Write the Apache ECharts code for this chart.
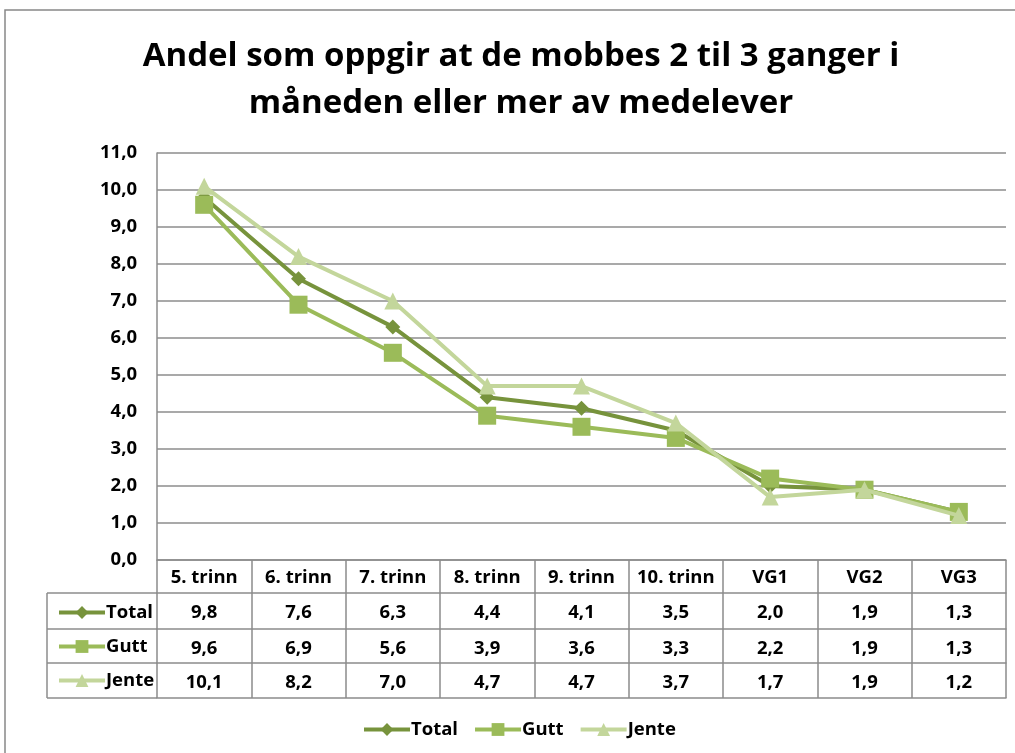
<!DOCTYPE html>
<html><head><meta charset="utf-8">
<script src="https://cdn.jsdelivr.net/npm/echarts@6/dist/echarts.min.js"></script>
<style>html,body{margin:0;padding:0;background:#fff}#c{width:1015px;height:753px}</style>
</head><body><div id="c"></div>
<script>
var categories = ['5. trinn','6. trinn','7. trinn','8. trinn','9. trinn','10. trinn','VG1','VG2','VG3'];
var totalValues = [9.8,7.6,6.3,4.4,4.1,3.5,2.0,1.9,1.3];
var guttValues  = [9.6,6.9,5.6,3.9,3.6,3.3,2.2,1.9,1.3];
var jenteValues = [10.1,8.2,7.0,4.7,4.7,3.7,1.7,1.9,1.2];
var seriesNames = ['Total','Gutt','Jente'];
var yTicks = {min:0, max:11, interval:1};

var FONT = 'Open Sans';
var GRID_C = '#8c8c8c';
var colors = ['#77933C','#9BBB59','#C3D69B'];
function fmt(v){ return v.toFixed(1).replace('.', ','); }

var chart = echarts.init(document.getElementById('c'));
function rowAxis(vals, off){
  return {type:'category', data: vals ? vals.map(fmt) : categories.map(function(){return '';}),
    position:'bottom', offset:off, gridIndex:0, boundaryGap:true,
    axisLine:{show:true, lineStyle:{color:GRID_C, width:1.5}},
    axisTick:{show:false}, splitLine:{show:false},
    axisLabel:{show:!!vals, interval:0, margin:10, fontFamily:FONT, fontWeight:'bold', fontSize:18.5, color:'#000'}};
}
var symbols = ['diamond','rect','triangle'];
var sizes = [15,18,17];
var data = [totalValues, guttValues, jenteValues];
var series = seriesNames.map(function(n,i){
  return {name:n, type:'line', data:data[i], symbol:symbols[i], symbolSize:sizes[i],
    lineStyle:{width:4, color:colors[i]}, itemStyle:{color:colors[i]}, z:2+i, animation:false};
});
var L = {x0:47, x1:157, ys:[593,629,663,698]};
var graphics = [
  {type:'rect', shape:{x:5, y:10, width:1030, height:780}, style:{fill:'none', stroke:'#888', lineWidth:1.5}, silent:true}
];
L.ys.forEach(function(y){
  graphics.push({type:'line', shape:{x1:L.x0, y1:y, x2:L.x1, y2:y}, style:{stroke:GRID_C, lineWidth:1.5}});
});
graphics.push({type:'line', shape:{x1:L.x0, y1:L.ys[0], x2:L.x0, y2:L.ys[3]}, style:{stroke:GRID_C, lineWidth:1.5}});

var legText = {fontFamily:FONT, fontWeight:'bold', fontSize:18.5, color:'#000', padding:[0,0,0,-4]};
chart.setOption({
  animation:false,
  title:{text:'Andel som oppgir at de mobbes 2 til 3 ganger i\nmåneden eller mer av medelever',
    left:516, textAlign:'center', top:28,
    textStyle:{fontFamily:FONT, fontWeight:'bold', fontSize:33, lineHeight:47, color:'#000'}},
  grid:{left:157, right:9, top:153, bottom:193, containLabel:false},
  legend:[
    {data:seriesNames, orient:'horizontal', left:357, top:715, itemWidth:46, itemHeight:16, itemGap:15,
      lineStyle:{width:4}, textStyle:legText},
    {data:seriesNames, orient:'vertical', left:52, top:598, itemWidth:46, itemHeight:16, itemGap:15,
      lineStyle:{width:4}, textStyle:legText}
  ],
  xAxis:[
    {type:'category', data:categories, position:'bottom', boundaryGap:true,
      axisLine:{show:true, lineStyle:{color:GRID_C, width:1.5}},
      axisTick:{show:true, interval:0, length:138, lineStyle:{color:GRID_C, width:1.5}},
      axisLabel:{interval:0, margin:8, fontFamily:FONT, fontWeight:'bold', fontSize:18.5, color:'#000'}},
    rowAxis(totalValues, 33),
    rowAxis(guttValues, 69),
    rowAxis(jenteValues, 103),
    rowAxis(null, 138)
  ],
  yAxis:{type:'value', min:yTicks.min, max:yTicks.max, interval:yTicks.interval,
    axisLine:{show:true, lineStyle:{color:GRID_C, width:1.5}}, axisTick:{show:false},
    splitLine:{lineStyle:{color:GRID_C, width:1.5}},
    axisLabel:{margin:20, formatter:fmt, fontFamily:FONT, fontWeight:'bold', fontSize:18.5, color:'#000'}},
  series:series,
  graphic:graphics
});
</script></body></html>
